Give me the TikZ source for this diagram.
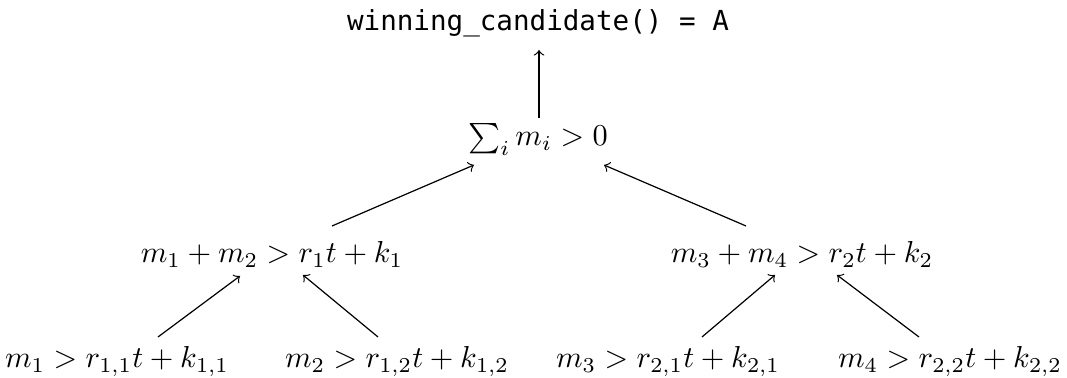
\documentclass[tikz,border=0pt]{standalone}
\usepackage{fontspec}
\newfontfamily\codefont{DejaVu Sans Mono}[Scale=0.91]
\usetikzlibrary{calc}
\begin{document}
\begin{tikzpicture}[x=0.33pt,y=-0.33pt,
  lbl/.style={inner sep=0pt,anchor=base},
  arr/.style={->,line width=0.4pt}]
\useasboundingbox (0,0) rectangle (1067,378);
\node[lbl] (top) at (538,31) {\codefont winning\_candidate() = A};
\node[lbl] (sum) at (538,146) {$\sum_i m_i > 0$};
\node[lbl] (m1) at (272,263) {$m_1 + m_2 > r_1 t + k_1$};
\node[lbl] (m2) at (802,263) {$m_3 + m_4 > r_2 t + k_2$};
\node[lbl] (b1) at (117,368) {$m_1 > r_{1,1} t + k_{1,1}$};
\node[lbl] (b2) at (397,368) {$m_2 > r_{1,2} t + k_{1,2}$};
\node[lbl] (b3) at (668,368) {$m_3 > r_{2,1} t + k_{2,1}$};
\node[lbl] (b4) at (950,368) {$m_4 > r_{2,2} t + k_{2,2}$};
\draw[arr] ($(b1.base)+(41,-31)$) -- ($(m1.base)+(-32,13)$);
\draw[arr] ($(b2.base)+(-19,-31)$) -- ($(m1.base)+(31,12)$);
\draw[arr] ($(b3.base)+(34,-31)$) -- ($(m2.base)+(-27,12)$);
\draw[arr] ($(b4.base)+(-31,-31)$) -- ($(m2.base)+(35,12)$);
\draw[arr] ($(m1.base)+(60,-37)$) -- ($(sum.base)+(-64,19)$);
\draw[arr] ($(m2.base)+(-56,-37)$) -- ($(sum.base)+(66,19)$);
\draw[arr] ($(sum.base)+(1,-28)$) -- ($(top.base)+(1,19)$);
\end{tikzpicture}
\end{document}
